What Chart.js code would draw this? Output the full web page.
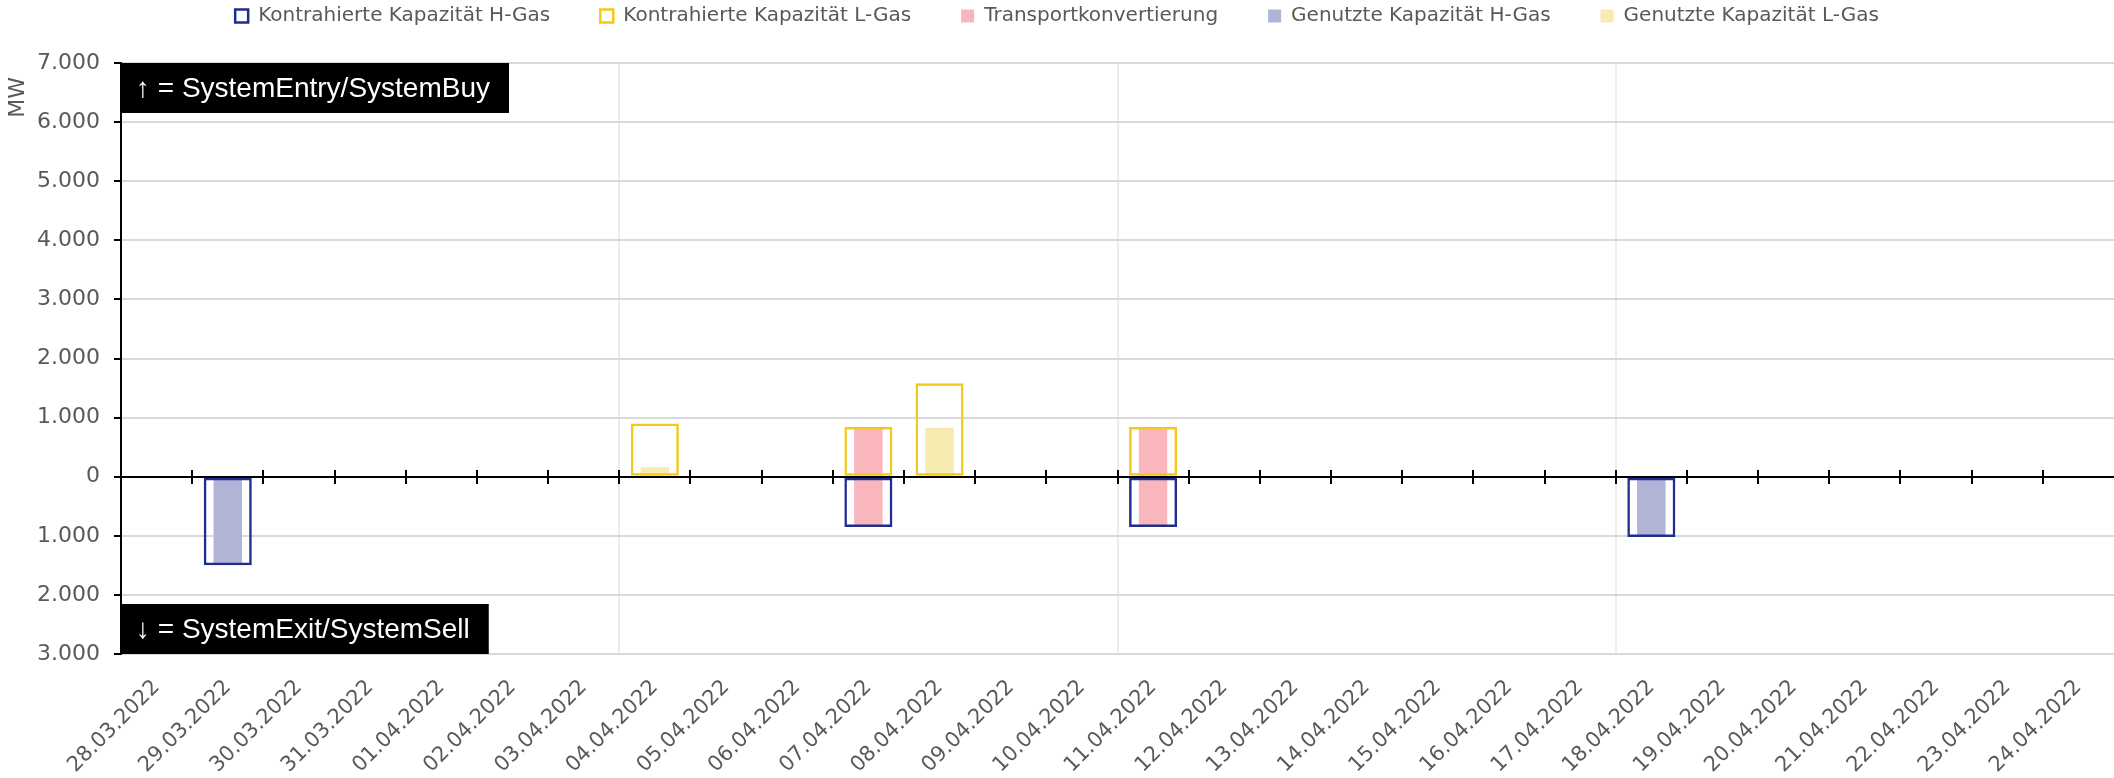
<!DOCTYPE html>
<html>
<head>
<meta charset="utf-8">
<script src="https://cdn.jsdelivr.net/npm/chart.js@4"></script>
<style>
  html, body { margin: 0; padding: 0; background: #ffffff; }
  #wrap { width: 2114px; height: 778px; position: relative; }
</style>
</head>
<body>
<div id="wrap"><canvas id="c"></canvas></div>
<script>
// ---------- data ----------
const categories = ['28.03.2022','29.03.2022','30.03.2022','31.03.2022','01.04.2022','02.04.2022','03.04.2022',
  '04.04.2022','05.04.2022','06.04.2022','07.04.2022','08.04.2022','09.04.2022','10.04.2022',
  '11.04.2022','12.04.2022','13.04.2022','14.04.2022','15.04.2022','16.04.2022','17.04.2022',
  '18.04.2022','19.04.2022','20.04.2022','21.04.2022','22.04.2022','23.04.2022','24.04.2022'];

const seriesNames = ['Kontrahierte Kapazität H-Gas','Kontrahierte Kapazität L-Gas','Transportkonvertierung',
  'Genutzte Kapazität H-Gas','Genutzte Kapazität L-Gas'];

const kontrahiertH = [null,-1500,null,null,null,null,null, null,null,null,-850,null,null,null,
  -850,null,null,null,null,null,null, -1020,null,null,null,null,null,null];
const kontrahiertL = [null,null,null,null,null,null,null, 900,null,null,840,1580,null,null,
  840,null,null,null,null,null,null, null,null,null,null,null,null,null];
const transport    = [null,null,null,null,null,null,null, null,null,null,825,null,null,null,
  825,null,null,null,null,null,null, null,null,null,null,null,null,null];
const genutztH     = [null,-1490,null,null,null,null,null, null,null,null,null,null,null,null,
  null,null,null,null,null,null,null, -1000,null,null,null,null,null,null];
const genutztL     = [null,null,null,null,null,null,null, 160,null,null,null,830,null,null,
  null,null,null,null,null,null,null, null,null,null,null,null,null,null];

const yTickValues = [-3000,-2000,-1000,0,1000,2000,3000,4000,5000,6000,7000];
const yTickLabels = ['3.000','2.000','1.000','0','1.000','2.000','3.000','4.000','5.000','6.000','7.000'];

const noteEntry = '\u2191 = SystemEntry/SystemBuy';
const noteExit  = '\u2193 = SystemExit/SystemSell';

// ---------- styling ----------
const GREY_TEXT = '#595959';
const LEGEND_PAD = 50;
const LEGEND_H = 63;

Chart.defaults.font.family = '"DejaVu Sans", "Liberation Sans", sans-serif';
Chart.defaults.color = GREY_TEXT;

const legendTweak = {
  id: 'legendTweak',
  beforeLayout(chart) {
    const lg = chart.legend;
    if (!lg || lg._tw) return;
    lg._tw = true;
    const fit = lg.fit.bind(lg);
    lg.fit = function () { fit(); this.height = LEGEND_H; };
    const draw = lg.draw.bind(lg);
    lg.draw = function (a) { const t = this.top; this.top = t - (LEGEND_PAD - 6); draw(a); this.top = t; };
  }
};

const overlay = {
  id: 'overlay',
  afterDatasetsDraw(chart) {
    const {ctx, chartArea: a, scales: {x, y}} = chart;
    const y0 = Math.round(y.getPixelForValue(0));
    ctx.save();
    ctx.strokeStyle = '#000000';
    ctx.lineWidth = 2;
    ctx.beginPath();
    ctx.moveTo(a.left, y0); ctx.lineTo(a.right, y0);
    for (let k = 1; k < categories.length; k++) {
      const px = Math.round(x.getPixelForValue(k - 0.5));
      ctx.moveTo(px, y0 - 7); ctx.lineTo(px, y0 + 7);
    }
    ctx.stroke();

    ctx.font = '28px "Liberation Sans", "DejaVu Sans", sans-serif';
    ctx.textBaseline = 'middle';
    const boxH = 50, padL = 15, padR = 19;
    const w1 = ctx.measureText(noteEntry).width + padL + padR;
    const w2 = ctx.measureText(noteExit).width + padL + padR;
    ctx.fillStyle = '#000000';
    ctx.fillRect(a.left - 1, a.top, w1 + 1, boxH);
    ctx.fillRect(a.left - 1, a.bottom - boxH, w2 + 1, boxH);
    ctx.fillStyle = '#ffffff';
    ctx.fillText(noteEntry, a.left + padL, a.top + boxH / 2 + 1);
    ctx.fillText(noteExit, a.left + padL, a.bottom - boxH / 2 + 1);
    ctx.restore();
  }
};

const OUT_W = 0.675, FILL_W = 0.4;
const datasets = [
  { label: seriesNames[0], data: kontrahiertH, backgroundColor: 'rgba(0,0,0,0)', borderColor: '#1f2d8c',
    borderWidth: 2.5, borderSkipped: false, barPercentage: OUT_W },
  { label: seriesNames[1], data: kontrahiertL, backgroundColor: 'rgba(0,0,0,0)', borderColor: '#f5c81c',
    borderWidth: 2.5, borderSkipped: false, barPercentage: OUT_W },
  { label: seriesNames[2], data: transport.map(v => v == null ? null : [-v, v]), backgroundColor: '#f9b7bd',
    borderWidth: 0, barPercentage: FILL_W },
  { label: seriesNames[3], data: genutztH, backgroundColor: '#b1b4d7', borderWidth: 0, barPercentage: FILL_W },
  { label: seriesNames[4], data: genutztL, backgroundColor: '#f8ebb2', borderWidth: 0, barPercentage: FILL_W }
].map(d => Object.assign({ type: 'bar', grouped: false, categoryPercentage: 1.0 }, d));

new Chart(document.getElementById('c'), {
  type: 'bar',
  data: { labels: categories, datasets },
  plugins: [legendTweak, overlay],
  options: {
    responsive: true,
    maintainAspectRatio: false,
    animation: false,
    devicePixelRatio: 1,
    layout: { padding: { top: 0, right: 0, bottom: 0, left: 0 } },
    plugins: {
      tooltip: { enabled: false },
      legend: {
        position: 'top',
        labels: {
          boxWidth: 13, boxHeight: 13, padding: LEGEND_PAD,
          font: { size: 20 }, color: GREY_TEXT,
          sort: (a, b) => a.datasetIndex - b.datasetIndex
        }
      }
    },
    scales: {
      x: {
        offset: true,
        grid: {
          offset: true,
          drawTicks: false,
          lineWidth: 2,
          color: ctx => (ctx.index % 7 === 0 ? '#ececec' : 'rgba(0,0,0,0)')
        },
        border: { display: false },
        ticks: {
          autoSkip: false, minRotation: 45, maxRotation: 45, padding: 21,
          font: { size: 21 }, color: GREY_TEXT
        },
        afterFit: s => { s.height = 124; s.paddingRight = 0; }
      },
      y: {
        min: -3000, max: 7000,
        afterBuildTicks: s => { s.ticks = yTickValues.map(v => ({ value: v })); },
        grid: { color: '#d9d9d9', lineWidth: 2, tickColor: '#000000', tickLength: 7, tickWidth: 2 },
        border: { display: true, color: '#000000', width: 2 },
        ticks: {
          padding: 14, font: { size: 22 }, color: GREY_TEXT,
          callback: v => yTickLabels[yTickValues.indexOf(v)]
        },
        title: { display: true, text: 'MW  ', align: 'end', font: { size: 22 }, color: GREY_TEXT,
          padding: { top: 5, bottom: 0 } },
        afterFit: s => { s.width = 121; }
      }
    }
  }
});
</script>
</body>
</html>
